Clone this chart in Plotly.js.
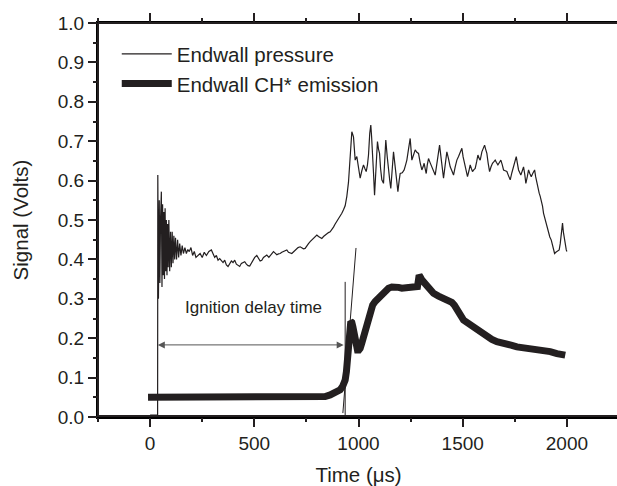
<!DOCTYPE html>
<html>
<head>
<meta charset="utf-8">
<script src="https://cdn.plot.ly/plotly-3.0.1.min.js"></script>
<style>html,body{margin:0;padding:0;overflow:hidden;background:#fff;}#chart{width:619px;height:486px;}</style>
</head>
<body>
<div id="chart"></div>
<script>
// ---- Data ----
const pressureTime = [
  0, 20, 36, 37, 40, 44, 47, 50, 54, 57,
  60, 63, 66, 69, 72, 75, 78, 81, 84, 87,
  90, 94, 98, 102, 106, 110, 114, 118, 122, 127,
  132, 137, 142, 148, 154, 160, 167, 174, 181, 188,
  196, 204, 212, 220, 230, 240, 250, 260, 270, 282,
  294, 302, 310, 318, 326, 334, 342, 350, 358, 366,
  374, 382, 390, 398, 406, 414, 422, 430, 438, 446,
  454, 462, 470, 478, 486, 494, 502, 512, 520, 528,
  536, 544, 552, 560, 570, 580, 592, 600, 608, 616,
  624, 632, 640, 648, 656, 664, 672, 680, 690, 700,
  710, 720, 728, 736, 744, 752, 760, 768, 776, 784,
  792, 800, 808, 816, 824, 832, 840, 848, 856, 864,
  872, 880, 888, 896, 904, 912, 920, 928, 936, 944,
  952, 960, 968, 976, 984, 992, 1000, 1008, 1016, 1024,
  1031, 1037, 1043, 1048, 1054, 1059, 1063, 1067, 1072, 1077,
  1084, 1091, 1096, 1101, 1106, 1112, 1120, 1125, 1131, 1138,
  1144, 1150, 1155, 1161, 1168, 1175, 1181, 1189, 1195, 1200,
  1210, 1219, 1226, 1232, 1240, 1248, 1252, 1256, 1264, 1272,
  1280, 1288, 1296, 1304, 1310, 1315, 1320, 1325, 1330, 1336,
  1344, 1352, 1360, 1368, 1378, 1389, 1398, 1408, 1416, 1424,
  1432, 1440, 1448, 1456, 1464, 1472, 1480, 1488, 1496, 1502,
  1509, 1516, 1523, 1530, 1536, 1542, 1547, 1554, 1560, 1567,
  1573, 1580, 1584, 1592, 1598, 1605, 1610, 1616, 1622, 1629,
  1636, 1643, 1650, 1656, 1662, 1669, 1676, 1683, 1690, 1696,
  1704, 1712, 1720, 1728, 1736, 1744, 1750, 1757, 1762, 1768,
  1774, 1779, 1786, 1792, 1798, 1803, 1810, 1816, 1822, 1829,
  1836, 1845, 1850, 1856, 1862, 1867, 1872, 1877, 1883, 1888,
  1894, 1899, 1906, 1912, 1918, 1925, 1933, 1941, 1947, 1952,
  1958, 1963, 1968, 1973, 1979, 1983, 1987, 1992, 1997, 2000
];
const pressureSignal = [
  0.005, 0.005, 0.005, 0.614, 0.30, 0.55, 0.34, 0.50, 0.572, 0.33,
  0.54, 0.36, 0.52, 0.35, 0.53, 0.37, 0.50, 0.36, 0.49, 0.38,
  0.50, 0.37, 0.47, 0.38, 0.47, 0.39, 0.46, 0.40, 0.455, 0.40,
  0.45, 0.405, 0.44, 0.41, 0.435, 0.415, 0.43, 0.415, 0.425, 0.42,
  0.43, 0.41, 0.42, 0.405, 0.41, 0.415, 0.405, 0.418, 0.41, 0.42,
  0.424, 0.412, 0.405, 0.41, 0.398, 0.402, 0.396, 0.392, 0.398, 0.386,
  0.382, 0.39, 0.396, 0.392, 0.398, 0.388, 0.384, 0.382, 0.39, 0.393,
  0.394, 0.388, 0.384, 0.383, 0.39, 0.398, 0.405, 0.41, 0.403, 0.396,
  0.398, 0.405, 0.408, 0.411, 0.405, 0.412, 0.42, 0.416, 0.412, 0.414,
  0.415, 0.418, 0.42, 0.422, 0.424, 0.418, 0.416, 0.415, 0.42, 0.426,
  0.43, 0.432, 0.43, 0.427, 0.428, 0.435, 0.44, 0.445, 0.449, 0.452,
  0.458, 0.462, 0.458, 0.455, 0.453, 0.458, 0.462, 0.466, 0.468, 0.47,
  0.475, 0.482, 0.49, 0.496, 0.503, 0.508, 0.517, 0.526, 0.536, 0.56,
  0.596, 0.66, 0.724, 0.711, 0.652, 0.661, 0.63, 0.606, 0.625, 0.64,
  0.63, 0.623, 0.64, 0.665, 0.72, 0.741, 0.71, 0.678, 0.62, 0.563,
  0.64, 0.699, 0.68, 0.669, 0.63, 0.602, 0.593, 0.65, 0.703, 0.66,
  0.623, 0.6, 0.58, 0.63, 0.673, 0.64, 0.61, 0.572, 0.6, 0.618,
  0.62, 0.627, 0.64, 0.652, 0.68, 0.707, 0.68, 0.652, 0.665, 0.678,
  0.672, 0.669, 0.645, 0.627, 0.635, 0.644, 0.63, 0.618, 0.64, 0.656,
  0.645, 0.635, 0.625, 0.614, 0.65, 0.69, 0.65, 0.606, 0.64, 0.673,
  0.655, 0.635, 0.625, 0.614, 0.635, 0.652, 0.661, 0.67, 0.682, 0.66,
  0.64, 0.625, 0.61, 0.625, 0.64, 0.63, 0.623, 0.628, 0.631, 0.648,
  0.665, 0.655, 0.652, 0.673, 0.68, 0.69, 0.68, 0.669, 0.645, 0.623,
  0.635, 0.644, 0.648, 0.652, 0.646, 0.64, 0.646, 0.652, 0.64, 0.627,
  0.625, 0.623, 0.612, 0.602, 0.62, 0.635, 0.648, 0.661, 0.645, 0.627,
  0.62, 0.614, 0.625, 0.635, 0.615, 0.593, 0.61, 0.627, 0.618, 0.61,
  0.618, 0.627, 0.61, 0.593, 0.58, 0.568, 0.56, 0.551, 0.535, 0.517,
  0.505, 0.492, 0.478, 0.466, 0.457, 0.449, 0.43, 0.415, 0.418, 0.42,
  0.422, 0.424, 0.44, 0.462, 0.492, 0.47, 0.453, 0.435, 0.424, 0.42
];
const chTime = [
  -10, 0, 50, 100, 150, 200, 250, 300, 350, 400,
  450, 500, 550, 600, 650, 700, 750, 800, 840, 864,
  888, 912, 924, 936, 942, 947, 952, 957, 963, 968,
  973, 978, 984, 990, 995, 1002, 1008, 1016, 1024, 1032,
  1040, 1048, 1056, 1068, 1080, 1096, 1112, 1128, 1144, 1160,
  1176, 1192, 1208, 1224, 1240, 1256, 1272, 1283, 1287, 1291,
  1296, 1304, 1316, 1328, 1344, 1360, 1384, 1408, 1428, 1448,
  1460, 1472, 1488, 1504, 1520, 1536, 1552, 1568, 1592, 1616,
  1640, 1664, 1688, 1712, 1736, 1760, 1792, 1824, 1856, 1888,
  1920, 1952, 1976, 1992
];
const chSignal = [
  0.05, 0.05, 0.049, 0.05, 0.05, 0.049, 0.05, 0.049, 0.05, 0.049,
  0.048, 0.049, 0.048, 0.049, 0.048, 0.049, 0.05, 0.05, 0.052, 0.056,
  0.061, 0.069, 0.078, 0.094, 0.115, 0.145, 0.175, 0.204, 0.242, 0.24,
  0.229, 0.21, 0.187, 0.175, 0.17, 0.17, 0.174, 0.188, 0.204, 0.222,
  0.238, 0.256, 0.272, 0.284, 0.293, 0.302, 0.31, 0.319, 0.327, 0.33,
  0.331, 0.329, 0.327, 0.327, 0.327, 0.329, 0.331, 0.331, 0.345, 0.36,
  0.356, 0.348, 0.34, 0.331, 0.322, 0.314, 0.307, 0.301, 0.297, 0.291,
  0.284, 0.276, 0.26, 0.246, 0.24, 0.234, 0.228, 0.221, 0.212, 0.204,
  0.197, 0.191, 0.189, 0.187, 0.182, 0.178, 0.176, 0.174, 0.172, 0.17,
  0.166, 0.161, 0.159, 0.157
];
const seriesNames = ["Endwall pressure", "Endwall CH* emission"];
// Ignition-delay annotation (time in µs, signal in V)
const delayStart = 37;
const delayEnd = 936;
const delayArrowLevel = 0.183;
const delayMarkerTop = 0.343;
const tangentTime = [925, 988];
const tangentSignal = [0.01, 0.429];
const delayLabel = "Ignition delay time";
const delayLabelPos = [494, 0.279];

const ink = "#231f20";
const fontFam = "'Liberation Sans', Arial, sans-serif";
const xRange = [-250, 2250];
const yRange = [0, 1.0];

const traces = [
  {x: pressureTime, y: pressureSignal, type: "scatter", mode: "lines",
   name: seriesNames[0], line: {color: ink, width: 1.2}, xaxis: "x", yaxis: "y"},
  {x: chTime, y: chSignal, type: "scatter", mode: "lines",
   name: seriesNames[1], line: {color: ink, width: 7}, xaxis: "x2", yaxis: "y2"}
];

const axisCommon = {
  showgrid: false, zeroline: false, mirror: "ticks",
  ticks: "outside", tickcolor: ink, tickwidth: 2,
  tickfont: {family: fontFam, size: 19, color: ink}
};

const layout = {
  width: 619, height: 486,
  margin: {l: 98, r: 0, t: 23, b: 69},
  font: {family: fontFam, color: ink},
  showlegend: true,
  legend: {x: 0.036, y: 0.972, xanchor: "left", yanchor: "top",
           bgcolor: "rgba(0,0,0,0)", itemwidth: 50,
           font: {family: fontFam, size: 20.5, color: ink}},
  xaxis: Object.assign({}, axisCommon, {
    range: xRange, dtick: 500, tick0: 0, ticklen: 8,
    showline: true, linecolor: "#000000", linewidth: 2,
    title: {text: "Time (μs)", font: {family: fontFam, size: 20.5, color: ink}, standoff: 18}
  }),
  yaxis: Object.assign({}, axisCommon, {
    range: yRange, dtick: 0.1, tick0: 0, tickformat: ".1f", ticklen: 8,
    showline: true, linecolor: "#000000", linewidth: 2,
    title: {text: "Signal (Volts)", font: {family: fontFam, size: 20.5, color: ink}, standoff: 24}
  }),
  xaxis2: Object.assign({}, axisCommon, {
    overlaying: "x", side: "bottom", anchor: "y2", range: xRange, dtick: 250, tick0: 0,
    ticklen: 4, showticklabels: false, showline: false
  }),
  yaxis2: Object.assign({}, axisCommon, {
    overlaying: "y", side: "left", anchor: "x2", range: yRange, dtick: 0.05, tick0: 0,
    ticklen: 4, showticklabels: false, showline: false
  }),
  shapes: [
    // frame edges as separate line shapes
    {type: "line", xref: "paper", yref: "paper", x0: 0, x1: 1, y0: 1, y1: 1,
     line: {color: ink, width: 2}},
    {type: "line", xref: "paper", yref: "paper", x0: 0, x1: 0, y0: 0, y1: 1,
     line: {color: ink, width: 2}},
    {type: "line", xref: "x", yref: "y", x0: xRange[0], x1: xRange[1], y0: yRange[0], y1: yRange[0],
     line: {color: ink, width: 4}},
    {type: "line", xref: "x", yref: "y", x0: delayEnd, x1: delayEnd, y0: 0, y1: delayMarkerTop,
     line: {color: ink, width: 1}},
    {type: "line", xref: "x", yref: "y", x0: tangentTime[0], x1: tangentTime[1],
     y0: tangentSignal[0], y1: tangentSignal[1], line: {color: ink, width: 1}}
  ],
  annotations: [
    {x: delayStart, y: delayArrowLevel, ax: delayEnd, ay: delayArrowLevel,
     xref: "x", yref: "y", axref: "x", ayref: "y", text: "", showarrow: true,
     arrowhead: 2, startarrowhead: 2, arrowside: "end+start", arrowsize: 1.4, startarrowsize: 1.4,
     arrowwidth: 1, arrowcolor: "#555"},
    {x: delayLabelPos[0], y: delayLabelPos[1], xref: "x", yref: "y", text: delayLabel,
     showarrow: false, font: {family: fontFam, size: 17, color: ink}}
  ]
};

Plotly.newPlot("chart", traces, layout, {displayModeBar: false});
</script>
</body>
</html>
